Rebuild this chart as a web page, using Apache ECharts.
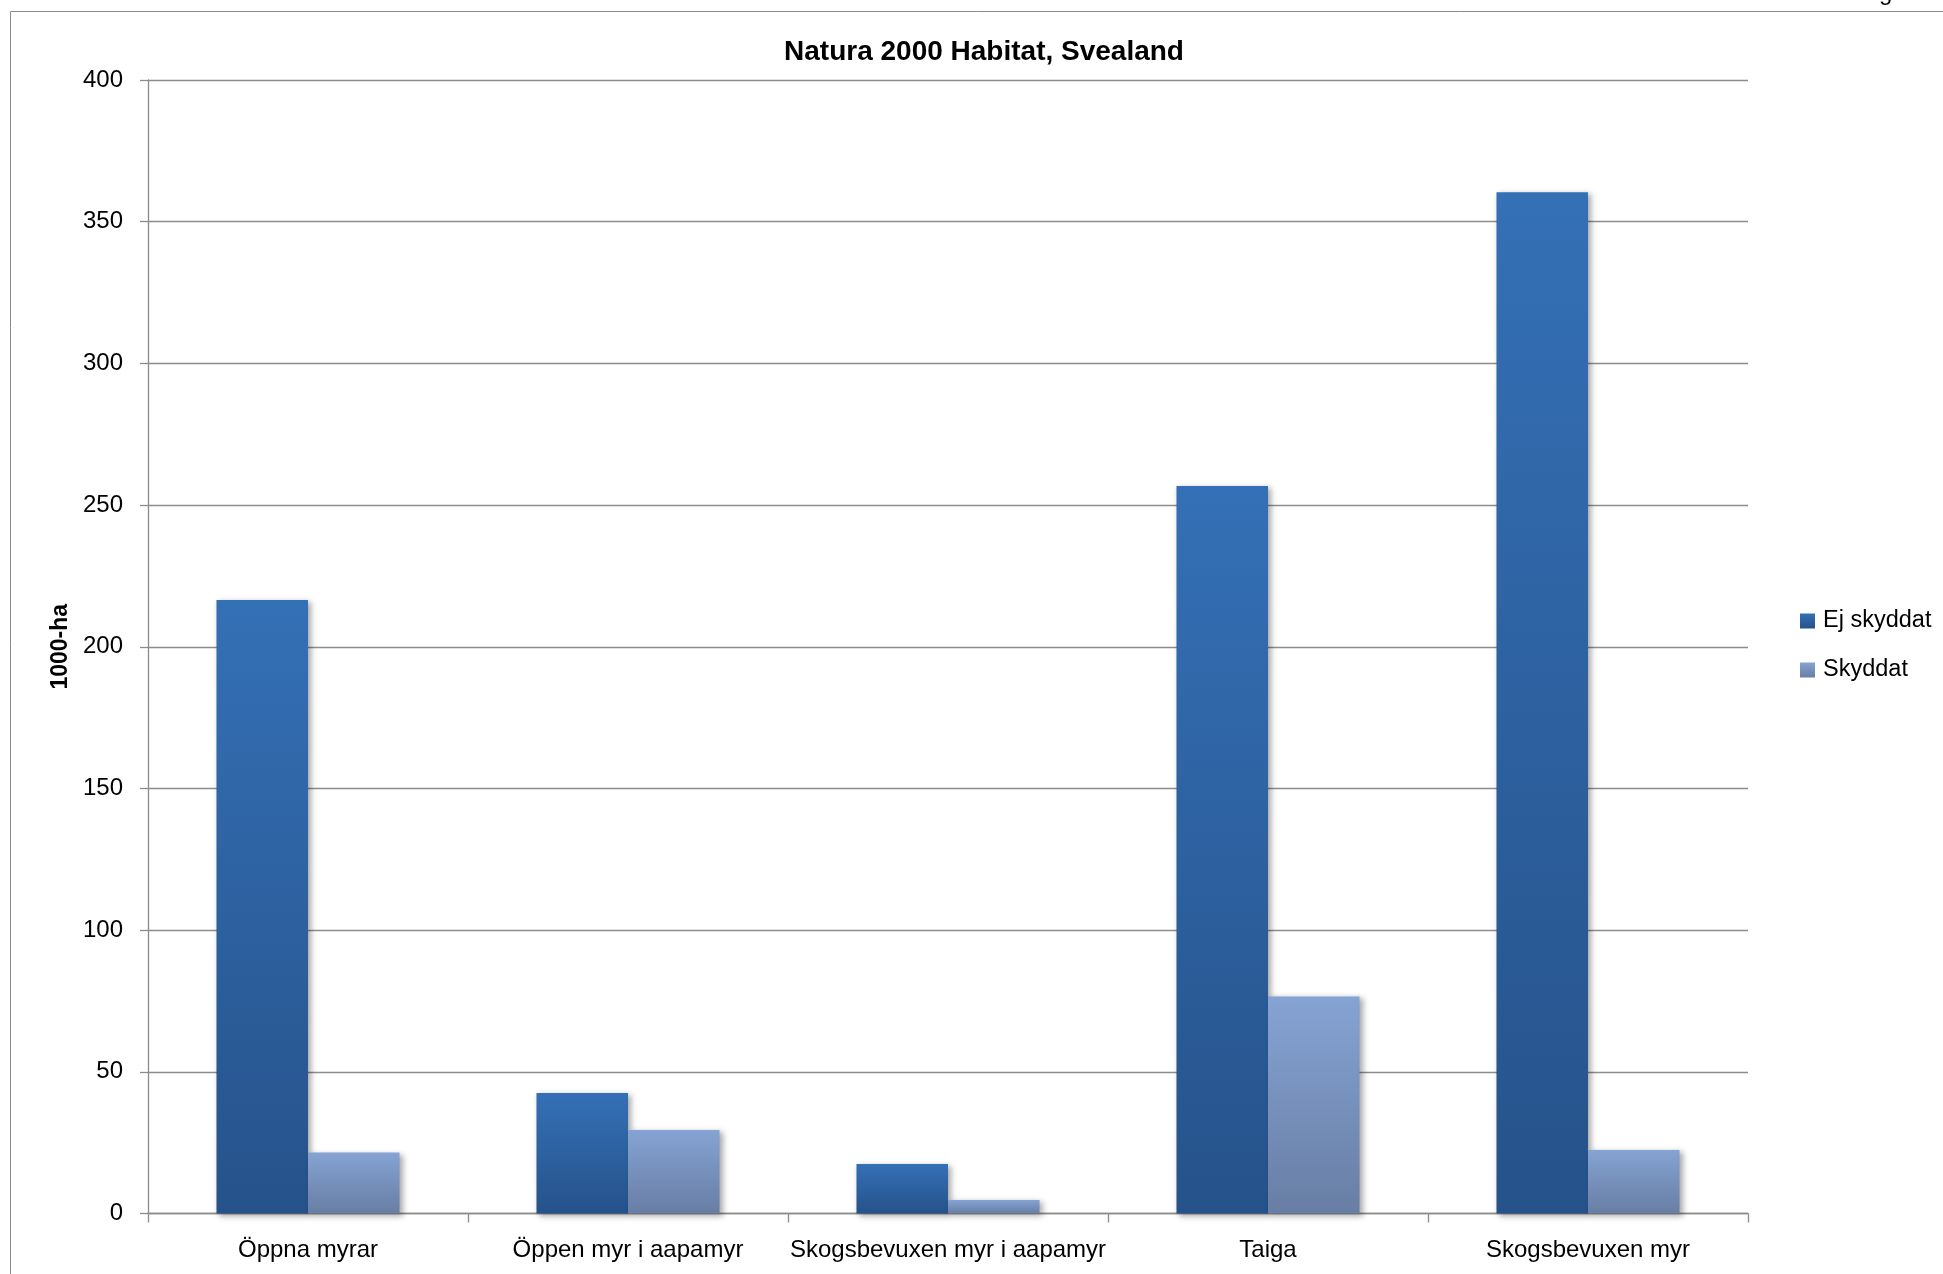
<!DOCTYPE html>
<html>
<head>
<meta charset="utf-8">
<script src="https://cdn.jsdelivr.net/npm/echarts@6/dist/echarts.min.js"></script>
<style>
html,body{margin:0;padding:0;background:#fff;}
#chart{width:1943px;height:1274px;}
</style>
</head>
<body>
<div id="chart"></div>
<script>
const categories = ['Öppna myrar', 'Öppen myr i aapamyr', 'Skogsbevuxen myr i aapamyr', 'Taiga', 'Skogsbevuxen myr'];
const ejSkyddat = [216.5, 42.5, 17.5, 256.7, 360.4];
const skyddat = [21.5, 29.5, 4.8, 76.6, 22.4];
const seriesNames = ['Ej skyddat', 'Skyddat'];
const yTicks = [0, 50, 100, 150, 200, 250, 300, 350, 400];

const font = '"Liberation Sans", Arial, sans-serif';
const chart = echarts.init(document.getElementById('chart'), null, {renderer: 'canvas'});

function grad(top, bottom) {
  return new echarts.graphic.LinearGradient(0, 0, 0, 1, [
    {offset: 0, color: top},
    {offset: 1, color: bottom}
  ]);
}

const option = {
  backgroundColor: '#ffffff',
  animation: false,
  title: {
    text: 'Natura 2000 Habitat, Svealand',
    left: 979,
    textAlign: 'center',
    top: 33,
    textStyle: {fontFamily: font, fontWeight: 'bold', fontSize: 28, color: '#000'}
  },
  graphic: [
    {type: 'rect', silent: true, shape: {x: 10.5, y: 11.5, width: 2100, height: 1400},
     style: {fill: 'none', stroke: '#8a8a8a', lineWidth: 1}},
    {type: 'text', silent: true, left: 1879, top: -19,
     style: {text: 'g', fontFamily: font, fontSize: 24, fill: '#000'}}
  ],
  legend: {
    orient: 'vertical',
    left: 1795,
    top: 603,
    itemWidth: 15,
    itemHeight: 15,
    itemGap: 23,
    icon: 'rect',
    textStyle: {fontFamily: font, fontSize: 23.5, color: '#000', lineHeight: 26, padding: [0, 0, 0, 3]},
    data: seriesNames
  },
  grid: {left: 148, right: 195, top: 80, bottom: 60.5, containLabel: false},
  xAxis: {
    type: 'category',
    data: categories,
    axisLine: {show: true, lineStyle: {color: '#8c8c8c', width: 1.3}},
    axisTick: {show: true, alignWithLabel: false, length: 9, lineStyle: {color: '#8c8c8c', width: 1.3}},
    axisLabel: {fontFamily: font, fontSize: 24, color: '#000', margin: 24.5, interval: 0},
    splitLine: {show: false}
  },
  yAxis: {
    type: 'value',
    min: yTicks[0],
    max: yTicks[yTicks.length - 1],
    interval: 50,
    name: '1000-ha',
    nameLocation: 'middle',
    nameGap: 75.5,
    nameTextStyle: {fontFamily: font, fontWeight: 'bold', fontSize: 23, color: '#000'},
    axisLine: {show: true, lineStyle: {color: '#8c8c8c', width: 1.3}},
    axisTick: {show: true, length: 8, lineStyle: {color: '#8c8c8c', width: 1.3}},
    axisLabel: {fontFamily: font, fontSize: 24, color: '#000', margin: 25},
    splitLine: {show: true, lineStyle: {color: '#8c8c8c', width: 1.3}}
  },
  series: [
    {
      name: seriesNames[0],
      type: 'bar',
      data: ejSkyddat,
      barGap: '0%',
      barCategoryGap: '42.8%',
      itemStyle: {
        color: grad('#3470B6', '#26528A'),
        shadowColor: 'rgba(0,0,0,0.35)', shadowBlur: 6, shadowOffsetX: 3, shadowOffsetY: 2
      }
    },
    {
      name: seriesNames[1],
      type: 'bar',
      data: skyddat,
      barGap: '0%',
      barCategoryGap: '42.8%',
      itemStyle: {
        color: grad('#85A3D3', '#687EA4'),
        shadowColor: 'rgba(0,0,0,0.35)', shadowBlur: 6, shadowOffsetX: 3, shadowOffsetY: 2
      }
    }
  ]
};
chart.setOption(option);
</script>
</body>
</html>
